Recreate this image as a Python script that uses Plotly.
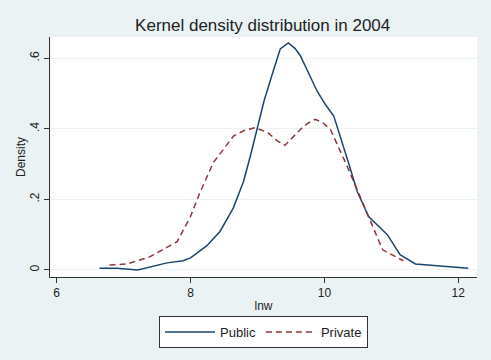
import plotly.graph_objects as go

# Data
public_x = [6.64, 6.9, 7.21, 7.45, 7.65, 7.89, 8.0, 8.24, 8.44, 8.64, 8.71, 8.79, 8.89, 8.99, 9.1, 9.23, 9.34, 9.46,
            9.56, 9.64, 9.76, 9.89, 10.01, 10.14, 10.36, 10.49, 10.66, 10.94, 11.13, 11.36, 11.73, 12.15]
public_y = [0.005, 0.005, 0.0, 0.012, 0.02, 0.026, 0.034, 0.068, 0.109, 0.176, 0.208, 0.25, 0.32, 0.40, 0.48, 0.56, 0.626, 0.643,
            0.628, 0.607, 0.56, 0.507, 0.47, 0.436, 0.304, 0.222, 0.151, 0.1, 0.043, 0.017, 0.011, 0.005]

private_x = [6.79, 7.05, 7.39, 7.65, 7.8, 8.0, 8.14, 8.34, 8.54, 8.64, 8.8, 8.96, 9.15, 9.3, 9.41, 9.52, 9.64, 9.75,
             9.86, 9.97, 10.09, 10.34, 10.61, 10.87, 11.18]
private_y = [0.014, 0.017, 0.037, 0.063, 0.08, 0.152, 0.219, 0.304, 0.356, 0.379, 0.395, 0.403, 0.39, 0.365, 0.353, 0.375, 0.398, 0.415,
             0.427, 0.418, 0.398, 0.294, 0.171, 0.057, 0.026]

x_ticks = [6, 8, 10, 12]
y_ticks = [0, 0.2, 0.4, 0.6]
y_tick_labels = ["0", ".2", ".4", ".6"]

BG = "#eaf2f3"
FONT = "Liberation Sans, Arial, sans-serif"

fig = go.Figure()
fig.add_trace(go.Scatter(x=public_x, y=public_y, mode="lines", name="Public",
                         line=dict(color="#1a476f", width=1.5)))
fig.add_trace(go.Scatter(x=private_x, y=private_y, mode="lines", name="Private",
                         line=dict(color="#90353b", width=1.5, dash="6px,4px")))

fig.update_layout(
    width=491, height=360,
    paper_bgcolor=BG, plot_bgcolor="white",
    margin=dict(l=50, r=14, t=37, b=83, autoexpand=False),
    font=dict(family=FONT, color="#222222", size=12),
    title=dict(text="Kernel density distribution in 2004", x=0.535, xanchor="center",
               yref="container", y=1 - 25 / 360, yanchor="middle",
               font=dict(size=17, color="#222222")),
    xaxis=dict(range=[5.9, 12.28], tickvals=x_ticks, ticks="outside", ticklen=5,
               tickcolor="#333333", showline=True, linecolor="#333333", linewidth=1,
               showgrid=False, zeroline=False, automargin=False,
               title=dict(text="lnw", font=dict(size=12), standoff=2),
               tickfont=dict(size=12)),
    yaxis=dict(range=[-0.02, 0.66], tickvals=y_ticks, ticktext=y_tick_labels,
               ticks="outside", ticklen=5, tickcolor="#333333", tickangle=-90,
               automargin=False,
               showline=True, linecolor="#333333", linewidth=1,
               showgrid=True, gridcolor=BG, gridwidth=1, zeroline=False,
               title=dict(text="Density", font=dict(size=12), standoff=0),
               tickfont=dict(size=12)),
    legend=dict(orientation="h", x=0.5, xanchor="center", xref="paper",
                yref="paper", y=(277 - 316) / 240, yanchor="top",
                bgcolor="white", bordercolor="#333333", borderwidth=1,
                font=dict(size=13), itemwidth=50),
    showlegend=True,
)

fig.write_html("out.html", config={"displayModeBar": False},
               post_script="document.body.style.margin='0';")
